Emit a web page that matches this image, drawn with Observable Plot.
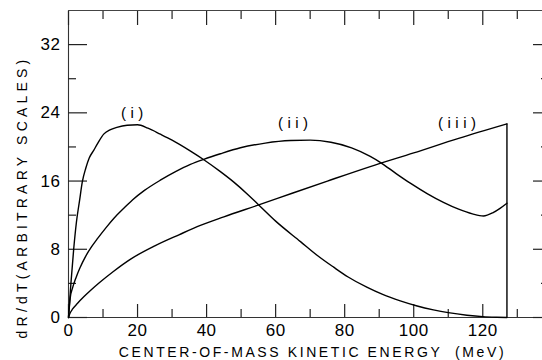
<!DOCTYPE html>
<html><head><meta charset="utf-8">
<script src="https://cdn.jsdelivr.net/npm/d3@7"></script>
<script src="https://cdn.jsdelivr.net/npm/@observablehq/plot@0.6"></script>
<style>
html,body{margin:0;padding:0;background:#fff;overflow:hidden}
#chart svg{display:block}
</style>
</head><body><div id="chart"></div>
<script>
// Curve (i)
const curveIx = [0, 0.7, 1.5, 2.3, 3.2, 4.0, 5.0, 6.0, 7.3, 8.5, 10.2, 12, 14, 17, 20, 23, 26.6, 30, 35, 39.2, 44, 47.8, 52, 55.1, 60, 67.2, 72, 76.8, 81, 86.4, 91, 96.1, 101, 105.7, 110, 115.4, 120, 124, 127];
const curveIy = [0, 4.0, 8.0, 11.2, 13.7, 15.9, 17.5, 18.7, 19.6, 20.45, 21.5, 22.0, 22.3, 22.55, 22.6, 22.2, 21.5, 20.8, 19.6, 18.5, 17.1, 15.9, 14.4, 13.2, 11.3, 8.9, 7.3, 5.9, 4.75, 3.55, 2.7, 1.95, 1.35, 0.9, 0.57, 0.27, 0.1, 0.03, 0];
// Curve (ii)
const curveIIx = [0, 0.5, 1.2, 2.2, 3.3, 5.0, 6.7, 8.5, 11, 13.3, 16, 18.6, 22, 26.6, 31, 35.3, 39.2, 44, 49.8, 57, 64.3, 70, 76, 82, 87.4, 90.3, 95, 99, 104, 108.6, 113, 117, 120.2, 123, 125, 127];
const curveIIy = [0, 2.3, 3.5, 4.7, 5.8, 7.2, 8.3, 9.3, 10.6, 11.7, 12.8, 13.8, 14.9, 16.1, 17.1, 17.95, 18.55, 19.2, 19.9, 20.45, 20.75, 20.8, 20.55, 19.9, 18.9, 18.2, 16.85, 15.75, 14.5, 13.5, 12.7, 12.15, 11.9, 12.3, 12.8, 13.4];
// Curve (iii)
const curveIIIx = [0, 0.5, 1.2, 2.7, 4.5, 6.6, 9, 13, 18, 25, 32, 38.2, 45, 55.1, 65, 75, 87.4, 100, 113, 127];
const curveIIIy = [0, 0.55, 1.0, 1.7, 2.45, 3.25, 4.1, 5.4, 6.85, 8.4, 9.7, 10.8, 11.8, 13.2, 14.6, 16.0, 17.7, 19.3, 21.0, 22.7];

const curveNames = ["i", "ii", "iii"];
const curveLabels = ["(i)", "(ii)", "(iii)"];
const curveLabelX = [18.5, 65.1, 112.6];
const curveLabelY = [24.0, 22.8, 22.8];

const xMajorTicks = [0, 20, 40, 60, 80, 100, 120];
const xMinorTicks = [10, 30, 50, 70, 90, 110, 130];
const yMajorTicks = [0, 8, 16, 24, 32];
const yMinorTicks = [4, 12, 20, 28];
const xDomain = [0, 137.3];
const yDomain = [0, 36];
const xTitle = "CENTER-OF-MASS KINETIC ENERGY  (MeV)";
const yTitle = "dR/dT(ARBITRARY SCALES)";

const toRows = (xs, ys, name) => xs.map((x, i) => ({x, y: ys[i], curve: name}));
const rows = [
  ...toRows(curveIx, curveIy, curveNames[0]),
  ...toRows(curveIIx, curveIIy, curveNames[1]),
  ...toRows(curveIIIx, curveIIIy, curveNames[2])
];
const labelRows = curveLabels.map((t, i) => ({t, x: curveLabelX[i], y: curveLabelY[i]}));
const dropX = curveIIIx[curveIIIx.length - 1];
const dropTop = curveIIIy[curveIIIy.length - 1];

const noText = () => "";
const tickStyle = {stroke: "#222", strokeWidth: 1.2, tickFormat: noText, label: null};

const plot = Plot.plot({
  width: 542, height: 360,
  marginLeft: 68, marginRight: 0, marginTop: 10, marginBottom: 43,
  x: {domain: xDomain},
  y: {domain: yDomain},
  style: {fontFamily: "'Liberation Sans', sans-serif", background: "white", color: "black"},
  marks: [
    Plot.ruleX([xDomain[0]], {stroke: "#333", strokeWidth: 1.1}),
    Plot.ruleY([yDomain[0]], {stroke: "#333", strokeWidth: 1.1}),
    Plot.ruleY([yDomain[1]], {stroke: "#444", strokeWidth: 1}),
    Plot.axisX({anchor: "bottom", ticks: xMajorTicks, tickSize: -13, ...tickStyle}),
    Plot.axisX({anchor: "bottom", ticks: xMinorTicks, tickSize: -8, ...tickStyle}),
    Plot.axisX({anchor: "top", ticks: xMajorTicks, tickSize: -14, ...tickStyle}),
    Plot.axisX({anchor: "top", ticks: xMinorTicks, tickSize: -8, ...tickStyle}),
    Plot.axisY({anchor: "left", ticks: yMajorTicks, tickSize: -19, ...tickStyle}),
    Plot.axisY({anchor: "left", ticks: yMinorTicks, tickSize: -8, ...tickStyle}),
    Plot.axisY({anchor: "right", ticks: yMajorTicks, tickSize: -10, ...tickStyle}),
    Plot.axisY({anchor: "right", ticks: yMinorTicks, tickSize: -2, ...tickStyle}),
    Plot.axisX({anchor: "bottom", ticks: xMajorTicks, tickSize: 0, tickPadding: 6, fontSize: 17, label: null, tickFormat: d => String(d)}),
    Plot.axisY({anchor: "left", ticks: yMajorTicks, tickSize: 0, tickPadding: 8, fontSize: 17, label: null, tickFormat: d => String(d)}),
    Plot.line(rows, {x: "x", y: "y", z: "curve", stroke: "black", strokeWidth: 1.4, curve: "monotone-x"}),
    Plot.ruleX([dropX], {y1: 0, y2: dropTop, stroke: "black", strokeWidth: 1.4}),
    Plot.text(labelRows, {x: "x", y: "y", text: "t", fontSize: 15, dx: 2}),
    Plot.text([xTitle], {frameAnchor: "bottom", lineAnchor: "bottom", dy: 39, dx: 7, fontSize: 14}),
    Plot.text([yTitle], {frameAnchor: "left", textAnchor: "middle", lineAnchor: "middle", rotate: -90, dx: -45.5, dy: 33, fontSize: 14})
  ]
});

d3.select(plot).selectAll("text").each(function() {
  const t = this.textContent;
  if (curveLabels.includes(t)) this.style.letterSpacing = "4.5px";
  else if (t === xTitle) this.style.letterSpacing = "2.6px";
  else if (t === yTitle) this.style.letterSpacing = "4.2px";
  else this.style.letterSpacing = "0.5px";
});

document.getElementById("chart").appendChild(plot);
</script>
</body></html>
